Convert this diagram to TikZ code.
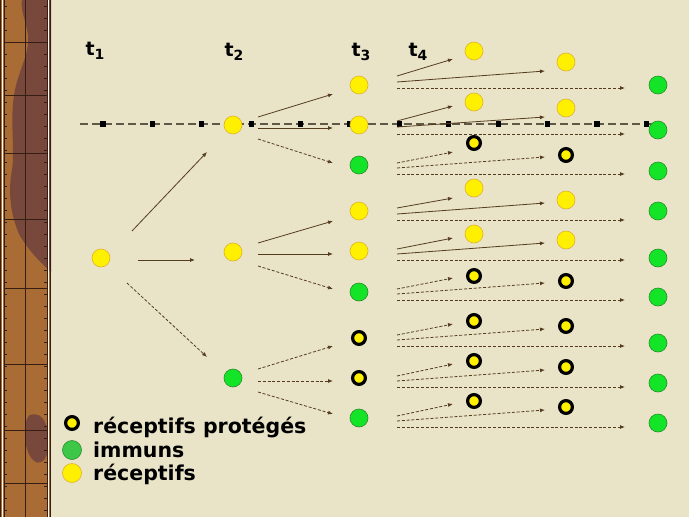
\documentclass[tikz,border=0pt]{standalone}
\usepackage{fontspec}
\setmainfont{DejaVu Sans}
\usetikzlibrary{arrows.meta,calc}

\definecolor{paper}{RGB}{233,227,200}
\definecolor{strip}{RGB}{168,108,52}
\definecolor{stripdark}{RGB}{120,72,60}
\definecolor{stripline}{RGB}{55,30,20}
\definecolor{jaune}{RGB}{255,240,0}
\definecolor{jauneb}{RGB}{222,178,40}
\definecolor{vert}{RGB}{20,228,40}
\definecolor{vertb}{RGB}{40,140,40}
\definecolor{vertleg}{RGB}{60,200,70}
\definecolor{fleche}{RGB}{85,60,30}
\definecolor{axe}{RGB}{95,88,70}

\tikzset{
  rec/.style={circle, fill=jaune, draw=jauneb, line width=0.6pt, minimum size=18pt, inner sep=0pt},
  imm/.style={circle, fill=vert, draw=vertb, line width=0.6pt, minimum size=18pt, inner sep=0pt},
  prot/.style={circle, fill=jaune, draw=black, line width=3.2pt, minimum size=12.8pt, inner sep=0pt},
  sur/.style={-{Latex[length=5pt,width=4pt]}, fleche, line width=0.8pt},
  pot/.style={sur, dash pattern=on 3pt off 1.8pt},
  temps/.style={font=\fontsize{19}{19}\selectfont\bfseries, inner sep=0pt},
  leg/.style={font=\fontsize{20.5}{24}\selectfont\bfseries, inner sep=0pt, anchor=base west},
}

\newcommand{\tps}[1]{t\raisebox{-4pt}{\fontsize{14}{14}\selectfont #1}}

\begin{document}
\begin{tikzpicture}[x=1pt, y=-1pt]
    \useasboundingbox (0,0) rectangle (689,517);
    \fill[paper] (0,0) rectangle (689,517);

    % bande de gauche
    \fill[strip] (0,0) rectangle (51,517);
    \fill[stripdark] (22,0) -- (51,0) -- (51,272) .. controls (40,262) and (30,252) .. (20,236)
        .. controls (10,215) and (8,190) .. (12,170) .. controls (15,150) and (10,120) .. (14,95)
        .. controls (18,70) and (30,55) .. (28,35) .. controls (26,20) and (20,10) .. (22,0) -- cycle;
    \fill[stripdark] (30,415) .. controls (45,410) and (50,430) .. (48,450)
        .. controls (44,470) and (30,465) .. (26,445) .. controls (24,430) and (25,418) .. (30,415) -- cycle;
    \draw[stripline, line width=0.7pt] (25,0) -- (25,517);
    \foreach \y in {42,95,153,219,288,364,430,483}
        \draw[stripline, line width=0.7pt] (4,\y) -- (47,\y);
    \foreach \y in {6,18,...,517} {
        \draw[stripline, line width=0.8pt] (4,\y) -- (7,\y);
        \draw[stripline, line width=0.8pt] (44,\y) -- (47,\y);
    }
    \draw[stripline, line width=1pt] (0.5,0) -- (0.5,517);
    \draw[white!88!paper, line width=1.3pt] (2.5,0) -- (2.5,517);
    \draw[stripline, line width=0.8pt] (4,0) -- (4,517);
    \draw[stripline, line width=0.8pt] (47,0) -- (47,517);
    \draw[white!88!paper, line width=1.3pt] (48.6,0) -- (48.6,517);
    \draw[stripline, line width=1.2pt] (50.4,0) -- (50.4,517);

    % axe en tirets
    \draw[axe, line width=2.5pt, dash pattern=on 8pt off 4pt] (80,124) -- (665,124);
    \foreach \k in {0,...,11}
        \fill[black] ($(103+49.4*\k,124)+(-2.6,-2.6)$) rectangle +(5.2,5.2);

    % temps
    \node[temps] (t1) at (95,51) {\tps{1}};
    \node[temps] (t2) at (234,52) {\tps{2}};
    \node[temps] (t3) at (361,52) {\tps{3}};
    \node[temps] (t4) at (418,52) {\tps{4}};

    % individus
    \node[rec] (a) at (101,258) {};
    \node[rec] (b1) at (233,125) {};
    \node[rec] (b2) at (233,252) {};
    \node[imm] (b3) at (233,378) {};
    \foreach \y/\s [count=\i] in {85/rec,125/rec,165/imm,211/rec,251/rec,292/imm,338/prot,378/prot,418/imm}
        \node[\s] (c\i) at (359,\y) {};
    \foreach \y/\s [count=\i] in {51/rec,102/rec,143/prot,188/rec,234/rec,276/prot,321/prot,361/prot,401/prot}
        \node[\s] (d\i) at (474,\y) {};
    \foreach \y/\s [count=\i] in {62/rec,108/rec,155/prot,200/rec,240/rec,281/prot,326/prot,367/prot,407/prot}
        \node[\s] (e\i) at (566,\y) {};
    \foreach \y [count=\i] in {85,130,171,211,258,297,343,383,423}
        \node[imm] (f\i) at (658,\y) {};

    % t1 -> t2
    \draw[sur] ($(a)+(31,-27)$) -- ($(b1)+(-26,27)$);
    \draw[sur] ($(a)+(37,2)$) -- ($(b2)+(-38,8)$);
    \draw[pot] ($(a)+(26,25)$) -- ($(b3)+(-26,-21)$);

    % t2 -> t3
    \foreach \p/\c/\o/\e/\s in {1/1/-8/9/sur, 1/2/3/3/sur, 1/3/14/-2/pot,
                               2/4/-9/10/sur, 2/5/2/3/sur, 2/6/14/-3/pot,
                               3/7/-9/8/pot, 3/8/3/3/pot, 3/9/14/-4/pot}
        \draw[\s] ($(b\p)+(25,\o)$) -- ($(c\c)+(-26,\e)$);

    % t3 -> t4 et suivants
    \foreach \i/\o/\e/\s in {1/-9/8/sur, 2/-4/4/sur, 3/-2/9/pot, 4/-3/10/sur, 5/-2/4/sur,
                             6/-3/2/pot, 7/-3/3/pot, 8/-2/3/pot, 9/-2/3/pot}
        \draw[\s] ($(c\i)+(38,\o)$) -- ($(d\i)+(-21,\e)$);
    \foreach \i/\o/\e/\s in {1/-3/9/sur, 2/2/9/sur, 3/3/2/pot, 4/3/3/sur, 5/3/3/sur,
                             6/2/2/pot, 7/2/3/pot, 8/3/3/pot, 9/3/3/pot}
        \draw[\s] ($(c\i)+(38,\o)$) -- ($(e\i)+(-21,\e)$);
    \foreach \i/\o/\e in {1/3/3, 2/9/4, 3/9/3, 4/9/9, 5/9/2, 6/8/3, 7/8/3, 8/9/4, 9/9/4}
        \draw[pot] ($(c\i)+(38,\o)$) -- ($(f\i)+(-33,\e)$);

    % legende
    \node[prot] (lp) at (72,423) {};
    \node[imm, fill=vertleg, draw=vertleg!70!black, minimum size=19pt] (li) at (72,450) {};
    \node[rec, minimum size=19pt] (lr) at (72,473) {};
    \node[leg] (lpt) at (93,433) {réceptifs protégés};
    \node[leg] (lit) at (93,457) {immuns};
    \node[leg] (lrt) at (93,480) {réceptifs};
\end{tikzpicture}
\end{document}
